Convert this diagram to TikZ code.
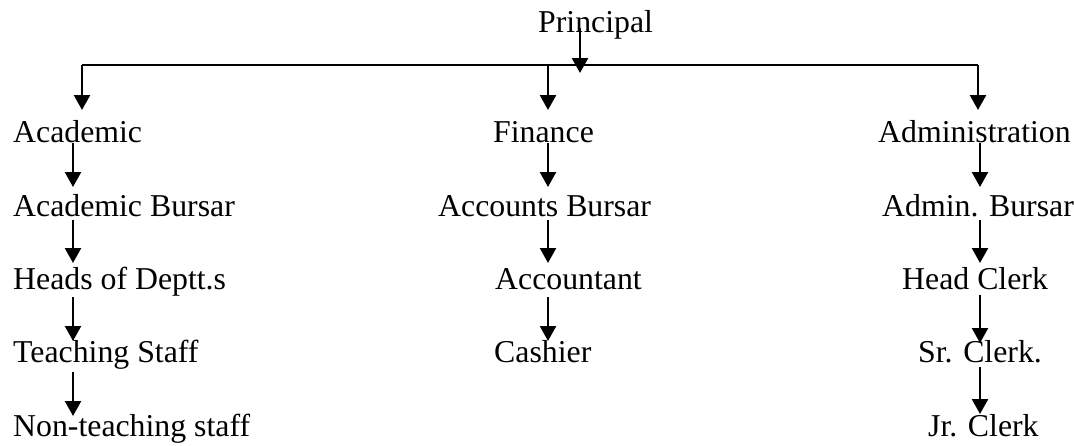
\documentclass[tikz,border=0pt]{standalone}
\usepackage{fontspec}
\setmainfont{Liberation Serif}
\usetikzlibrary{arrows.meta}
\begin{document}
\begin{tikzpicture}[x=1pt,y=-1pt,
  lbl/.style={anchor=base west,inner sep=0pt,font=\fontsize{31.8}{38}\selectfont},
  conn/.style={line width=2.4pt},
  arr/.style={conn,-{Triangle[width=16pt,length=15pt]}}]
\useasboundingbox (0,0) rectangle (1074,445);
% nodes
\node[lbl] (prin) at (538,32) {Principal};
\node[lbl] (acad)  at (13,142) {Academic};
\node[lbl] (acbur) at (13,216) {Academic Bursar};
\node[lbl] (heads) at (13,289) {Heads of Deptt.s};
\node[lbl] (teach) at (13,362) {Teaching Staff};
\node[lbl] (nont)  at (13,436) {Non-teaching staff};
\node[lbl] (fin)   at (493,142) {Finance};
\node[lbl] (accb)  at (438,216) {Accounts Bursar};
\node[lbl] (acct)  at (495,289) {Accountant};
\node[lbl] (cash)  at (494,362) {Cashier};
\node[lbl] (adm)   at (878,142) {Administration};
\node[lbl] (admb)  at (882,216) {Admin. Bursar};
\node[lbl] (hclk)  at (902,289) {Head Clerk};
\node[lbl] (sclk)  at (918,362) {Sr. Clerk.};
\node[lbl] (jclk)  at (928,436) {Jr. Clerk};
% coordinates
\coordinate (bl) at (82,65);
\coordinate (bm) at (548,65);
\coordinate (br) at (978,65);
\coordinate (px) at (580,0);
\coordinate (cL) at (73,0);
\coordinate (cM) at (548,0);
\coordinate (cR) at (980,0);
% top branch
\draw[conn] (bl) -- (br);
\draw[arr] ([yshift=4pt]prin.base -| px) -- ([yshift=-8pt]bl -| px);
\draw[arr] (bl) -- ([yshift=32pt]acad.base -| bl);
\draw[arr] (bm) -- ([yshift=32pt]fin.base -| bm);
\draw[arr] (br) -- ([yshift=32pt]adm.base -| br);
% left column
\draw[arr] ([yshift=-1pt]acad.base -| cL) -- ([yshift=29pt]acbur.base -| cL);
\draw[arr] ([yshift=-4pt]acbur.base -| cL) -- ([yshift=26pt]heads.base -| cL);
\draw[arr] ([yshift=-8pt]heads.base -| cL) -- ([yshift=21pt]teach.base -| cL);
\draw[arr] ([yshift=-10pt]teach.base -| cL) -- ([yshift=20pt]nont.base -| cL);
% middle column
\draw[arr] ([yshift=-1pt]fin.base -| cM) -- ([yshift=29pt]accb.base -| cM);
\draw[arr] ([yshift=-4pt]accb.base -| cM) -- ([yshift=26pt]acct.base -| cM);
\draw[arr] ([yshift=-8pt]acct.base -| cM) -- ([yshift=21pt]cash.base -| cM);
% right column
\draw[arr] ([yshift=-1pt]adm.base -| cR) -- ([yshift=29pt]admb.base -| cR);
\draw[arr] ([yshift=-4pt]admb.base -| cR) -- ([yshift=26pt]hclk.base -| cR);
\draw[arr] ([yshift=-6pt]hclk.base -| cR) -- ([yshift=19pt]sclk.base -| cR);
\draw[arr] ([yshift=-5pt]sclk.base -| cR) -- ([yshift=22pt]jclk.base -| cR);
\end{tikzpicture}
\end{document}
